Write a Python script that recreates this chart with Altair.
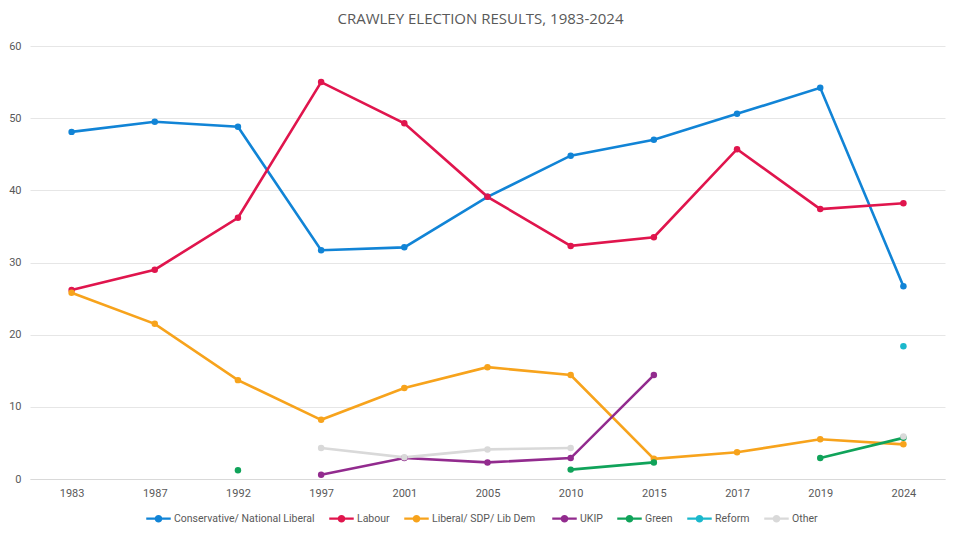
import altair as alt
import pandas as pd

years = ["1983", "1987", "1992", "1997", "2001", "2005", "2010", "2015", "2017", "2019", "2024"]

parties = ["Conservative/ National Liberal", "Labour", "Liberal/ SDP/ Lib  Dem",
           "UKIP", "Green", "Reform", "Other"]
colors = ["#1184D6", "#E0154D", "#F7A31C", "#922B8E", "#10A35A", "#1BB8CC", "#D9D9D9"]

conservative = [48.1, 49.5, 48.8, 31.7, 32.1, 39.1, 44.8, 47.0, 50.6, 54.2, 26.7]
labour       = [26.2, 29.0, 36.2, 55.0, 49.3, 39.1, 32.3, 33.5, 45.7, 37.4, 38.2]
libdem       = [25.8, 21.5, 13.7, 8.2, 12.6, 15.5, 14.4, 2.8, 3.7, 5.5, 4.8]
ukip         = [None, None, None, 0.6, 2.9, 2.3, 2.9, 14.4, None, None, None]
green        = [None, None, 1.2, None, None, None, 1.3, 2.3, None, 2.9, 5.7]
reform       = [None, None, None, None, None, None, None, None, None, None, 18.4]
other        = [None, None, None, 4.3, 3.0, 4.1, 4.3, None, None, None, 5.9]

series = [conservative, labour, libdem, ukip, green, reform, other]

rows = []
for order, (name, vals) in enumerate(zip(parties, series)):
    seg = 0
    prev = False
    for y, v in zip(years, vals):
        if v is None:
            prev = False
            continue
        if not prev:
            seg += 1
        prev = True
        rows.append({"year": y, "party": name, "value": v,
                     "seg": f"{name}-{seg}", "order": order})
df = pd.DataFrame(rows)

legend_symbol = "M-1,0H1M-0.22,0A0.22,0.22 0 1 1 0.22,0A0.22,0.22 0 1 1 -0.22,0Z"
FONT = "Roboto"

color = alt.Color(
    "party:N",
    scale=alt.Scale(domain=parties, range=colors),
    legend=alt.Legend(
        title=None, orient="none", direction="horizontal", columns=7,
        legendX=115, legendY=459, symbolType=legend_symbol, symbolSize=600,
        symbolStrokeWidth=2.2, columnPadding=9, labelOffset=2,
        labelFont=FONT, labelFontSize=10.5, labelColor="#595959",
    ),
)

x = alt.X("year:O", sort=years, scale=alt.Scale(type="point", padding=0.5),
          axis=alt.Axis(title=None, labelAngle=0, ticks=False, domainColor="#D9D9D9",
                        labelColor="#595959", labelFontSize=11, labelPadding=8,
                        labelFont=FONT, grid=False))
y = alt.Y("value:Q", scale=alt.Scale(domain=[0, 60], nice=False),
          axis=alt.Axis(title=None, values=[0, 10, 20, 30, 40, 50, 60], domain=False,
                        ticks=False, labelColor="#595959", labelFontSize=11, labelPadding=9,
                        labelFont=FONT, gridColor="#E6E6E6"))

base = alt.Chart(df)
lines = base.mark_line(strokeWidth=2.6).encode(
    x=x, y=y, color=color, detail="seg:N", order=alt.Order("year:O"))
points = base.mark_circle(size=42, opacity=1).encode(
    x=x, y=y, color=alt.Color("party:N", scale=alt.Scale(domain=parties, range=colors), legend=None))

chart = alt.layer(lines, points).properties(
    width=915, height=433,
    title=alt.Title("CRAWLEY ELECTION RESULTS, 1983-2024", font="Open Sans", fontSize=15,
                    fontWeight="normal", color="#595959", offset=13, dx=-7),
    autosize=alt.AutoSizeParams(type="none"),
    padding={"left": 22, "top": 38, "right": 7, "bottom": 50},
).configure_view(stroke=None)

chart.save("out.html", embed_options={"renderer": "svg", "actions": False})
